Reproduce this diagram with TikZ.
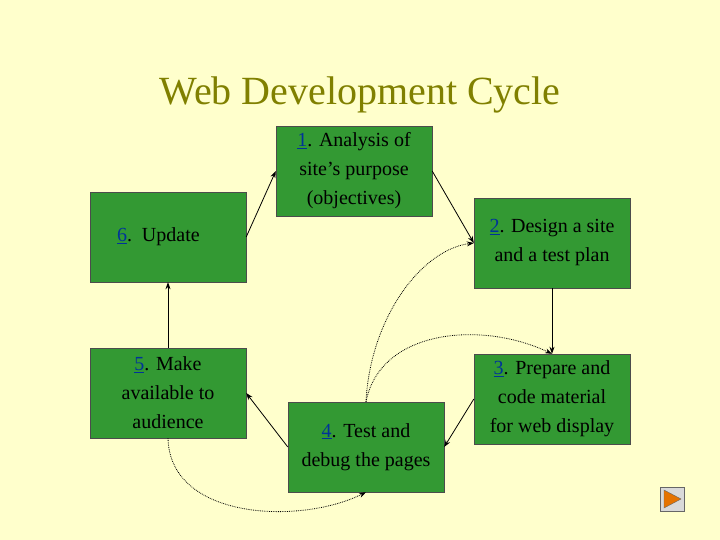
\documentclass[tikz,border=0pt]{standalone}
\usepackage{fontspec}
\setmainfont{Liberation Serif}
\usetikzlibrary{arrows.meta}
\definecolor{bg}{RGB}{255,255,204}
\definecolor{boxg}{RGB}{51,153,51}
\definecolor{olive}{RGB}{128,128,0}
\definecolor{numb}{RGB}{0,51,153}
\newcommand{\num}[1]{\textcolor{numb}{\underline{#1}}}
\begin{document}
\begin{tikzpicture}[x=1pt,y=-1pt,
  stepbox/.style={draw=black!70,fill=boxg,minimum width=156pt,minimum height=90pt,align=center,font=\fontsize{20}{29}\selectfont,inner sep=0pt},
  arr/.style={-{Stealth[length=7pt,width=5pt]},line width=0.8pt},
  dot/.style={-{Stealth[length=7pt,width=5pt]},line width=0.8pt,densely dotted}]
\fill[bg] (0,0) rectangle (720,540);
\useasboundingbox (0,0) rectangle (720,540);
\node[text=olive,font=\fontsize{40}{48}\selectfont] (title) at (360,95) {Web Development Cycle};
\node[stepbox] (b1) at (354,171) {\num{1}. Analysis of\\site’s purpose\\(objectives)};
\node[stepbox] (b2) at (552,243) {\num{2}. Design a site\\and a test plan};
\node[stepbox] (b3) at (552,399) {\num{3}. Prepare and\\code material\\for web display};
\node[stepbox] (b4) at (366,447) {\num{4}. Test and\\debug the pages};
\node[stepbox] (b5) at (168,393) {\num{5}. Make\\available to\\audience};
\node[stepbox,text width=150pt,align=left] (b6) at (168,237) {\hspace*{24pt}\num{6}. Update};
\draw[arr] (b6.east) -- (b1.west);
\draw[arr] (b1.east) -- (b2.west);
\draw[arr] (b2.south) -- (b3.north);
\draw[arr] (b3.west) -- (b4.east);
\draw[arr] (b4.west) -- (b5.east);
\draw[arr] (b5.north) -- (b6.south);
\draw[dot] (b5.south) .. controls (170,520) and (300,525) .. (b4.south);
\draw[dot] (b4.north) .. controls (370,320) and (420,250) .. (b2.west);
\draw[dot] (b4.north) .. controls (380,330) and (480,320) .. (b3.north);
\node[draw=black!60,fill=black!15,minimum size=24pt,inner sep=0pt] (play) at (672,499) {};
\fill[orange!90!black,draw=black!60] (664,490) -- (681,499) -- (664,508) -- cycle;
\end{tikzpicture}
\end{document}
